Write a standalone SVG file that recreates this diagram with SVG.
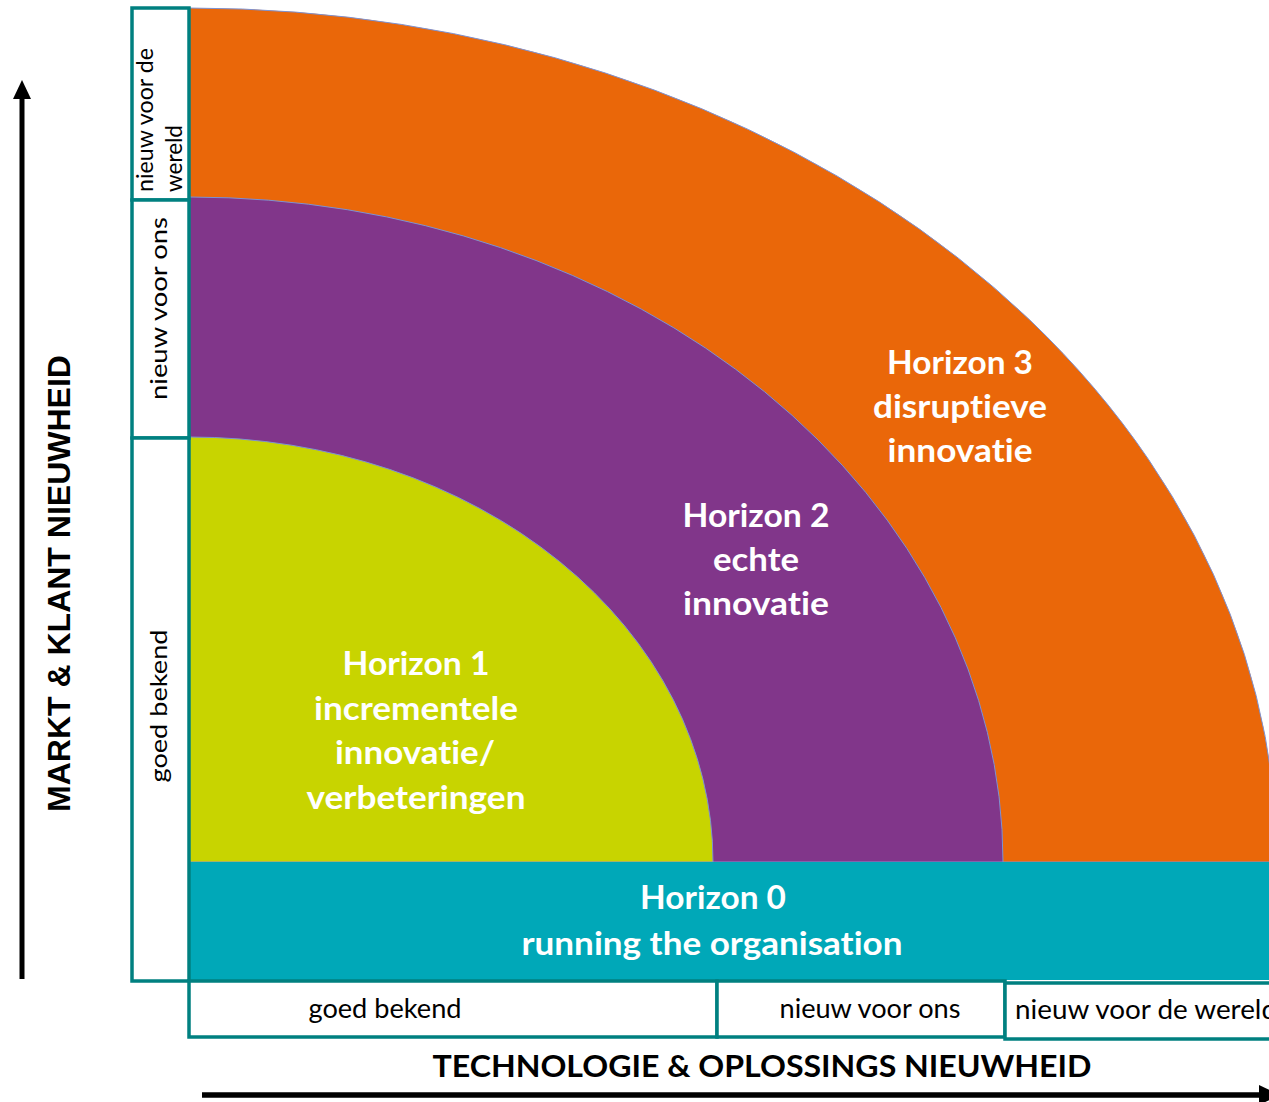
<svg xmlns="http://www.w3.org/2000/svg" width="1269" height="1102" viewBox="0 0 1269 1102">
<style>
text{font-variant-ligatures:none;font-feature-settings:"liga" 0,"clig" 0}
.box{fill:#ffffff;stroke:#008080;stroke-width:3.5}
.arc{stroke:#7d92d2;stroke-width:1}
.h{font-family:Lato,"Open Sans",sans-serif;font-weight:bold;font-size:33px;fill:#ffffff;text-anchor:middle}
.lbl{font-family:Lato,"Open Sans",sans-serif;font-size:26px;fill:#000000}
.vl{font-family:Lato,"Open Sans",sans-serif;font-size:24px;fill:#000000}
.ax{font-family:"Liberation Sans",Arial,sans-serif;font-weight:bold;font-size:32px;fill:#000000;text-anchor:middle}
.axb{font-family:Lato,"Open Sans",sans-serif;font-weight:bold;font-size:30px;fill:#000000;text-anchor:middle}
</style>
<rect width="1269" height="1102" fill="#ffffff"/>
<g id="horizon3"><path class="arc" d="M189,862 L189,8 A1088,854 0 0 1 1277,862 Z" fill="#EA6709"/>
<text class="h" x="960" y="374" textLength="146" lengthAdjust="spacingAndGlyphs">Horizon 3</text>
<text class="h" x="960" y="418" textLength="174" lengthAdjust="spacingAndGlyphs">disruptieve</text>
<text class="h" x="960" y="462" textLength="145" lengthAdjust="spacingAndGlyphs">innovatie</text></g>
<g id="horizon2"><path class="arc" d="M189,862 L189,197 A814,665 0 0 1 1003,862 Z" fill="#81368A"/>
<text class="h" x="756" y="527" textLength="147" lengthAdjust="spacingAndGlyphs">Horizon 2</text>
<text class="h" x="756" y="571" textLength="86" lengthAdjust="spacingAndGlyphs">echte</text>
<text class="h" x="756" y="615" textLength="146" lengthAdjust="spacingAndGlyphs">innovatie</text></g>
<g id="horizon1"><path class="arc" d="M189,862 L189,437 A524,425 0 0 1 713,862 Z" fill="#C8D400"/>
<text class="h" x="416" y="675" textLength="147" lengthAdjust="spacingAndGlyphs">Horizon 1</text>
<text class="h" x="416" y="720" textLength="204" lengthAdjust="spacingAndGlyphs">incrementele</text>
<text class="h" x="415" y="764" textLength="160" lengthAdjust="spacingAndGlyphs">innovatie/</text>
<text class="h" x="416" y="809" textLength="219" lengthAdjust="spacingAndGlyphs">verbeteringen</text></g>
<g id="horizon0"><rect x="189" y="862" width="1080" height="118" fill="#00A8B8"/>
<text class="h" x="713" y="909" textLength="146" lengthAdjust="spacingAndGlyphs">Horizon 0</text>
<text class="h" x="712" y="955" textLength="381" lengthAdjust="spacingAndGlyphs">running the organisation</text></g>
<g id="markt-wereld"><rect class="box" x="132" y="8" width="57" height="192"/>
<text class="vl" transform="translate(153,192) rotate(-90)" textLength="144" lengthAdjust="spacingAndGlyphs">nieuw voor de</text>
<text class="vl" transform="translate(182,192) rotate(-90)" textLength="67" lengthAdjust="spacingAndGlyphs">wereld</text></g>
<g id="markt-ons"><rect class="box" x="132" y="200" width="57" height="238"/>
<text class="vl" transform="translate(167,308.5) rotate(-90)" text-anchor="middle" textLength="183" lengthAdjust="spacingAndGlyphs">nieuw voor ons</text></g>
<g id="markt-bekend"><rect class="box" x="132" y="438" width="57" height="543"/>
<text class="vl" transform="translate(167,706) rotate(-90)" text-anchor="middle" textLength="153" lengthAdjust="spacingAndGlyphs">goed bekend</text></g>
<g id="tech-bekend"><rect class="box" x="189" y="981" width="528" height="56"/>
<text class="lbl" x="385" y="1018" text-anchor="middle" textLength="153" lengthAdjust="spacingAndGlyphs">goed bekend</text></g>
<g id="tech-ons"><rect class="box" x="717" y="981" width="288" height="56"/>
<text class="lbl" x="870" y="1018" text-anchor="middle" textLength="181" lengthAdjust="spacingAndGlyphs">nieuw voor ons</text></g>
<g id="tech-wereld"><rect class="box" x="1005" y="983" width="270" height="56"/>
<text class="lbl" x="1015" y="1019" textLength="262" lengthAdjust="spacingAndGlyphs">nieuw voor de wereld</text></g>
<g id="connectors">
<line x1="22" y1="979" x2="22" y2="97" stroke="#000000" stroke-width="5"/>
<polygon points="22,80 13,99 31,99" fill="#000000"/>
<line x1="202" y1="1095" x2="1262" y2="1095" stroke="#000000" stroke-width="5.5"/>
<polygon points="1259,1085 1280,1095 1259,1105" fill="#000000"/>
</g>
<g id="axis-labels">
<text class="ax" transform="translate(70,583.5) rotate(-90)">MARKT &amp; KLANT NIEUWHEID</text>
<text class="axb" x="762" y="1077" textLength="659" lengthAdjust="spacingAndGlyphs">TECHNOLOGIE &amp; OPLOSSINGS NIEUWHEID</text>
</g>
</svg>
